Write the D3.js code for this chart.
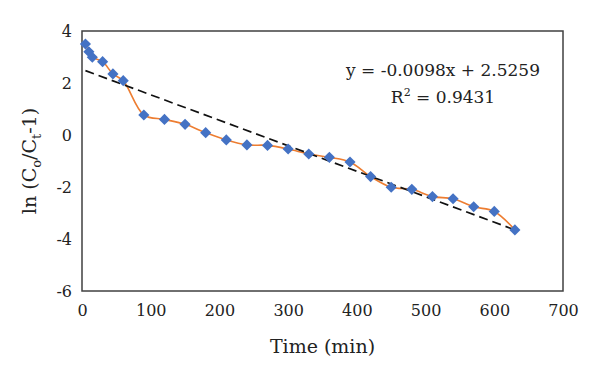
<!DOCTYPE html>
<html>
<head>
<meta charset="utf-8">
<script src="https://cdnjs.cloudflare.com/ajax/libs/d3/7.8.5/d3.min.js"></script>
<style>
  body { margin: 0; background: #fff; }
  text { font-family: "DejaVu Serif", "Liberation Serif", serif; fill: #222; }
</style>
</head>
<body>
<div id="canvas"></div>
<script>
const w = 600;
const h = 374;
const margin = { top: 31, bottom: 83, left: 82, right: 37 };

// values
const times = [5, 10, 15, 30, 45, 60, 90, 120, 150, 180, 210, 240, 270, 300, 330, 360, 390, 420, 450, 480, 510, 540, 570, 600, 630];
const lnValues = [3.5, 3.2, 2.99, 2.82, 2.35, 2.09, 0.77, 0.6, 0.41, 0.09, -0.19, -0.38, -0.4, -0.54, -0.73, -0.86, -1.04, -1.6, -2.01, -2.09, -2.37, -2.45, -2.76, -2.94, -3.65];
const xTicks = [0, 100, 200, 300, 400, 500, 600, 700];
const yTicks = [4, 2, 0, -2, -4, -6];
const slope = -0.0098;
const intercept = 2.5259;
const rSquared = "0.9431";

const width = w - margin.left - margin.right;
const height = h - margin.top - margin.bottom;

const data = times.map((t, i) => ({ t: t, v: lnValues[i] }));

const svg = d3.select("#canvas").append("svg")
  .attr("width", w)
  .attr("height", h);

const chart = svg.append("g")
  .attr("transform", "translate(" + margin.left + "," + margin.top + ")");

const x = d3.scaleLinear().domain([0, 700]).range([0, width]);
const y = d3.scaleLinear().domain([-6, 4]).range([height, 0]);

// frame
chart.append("rect")
  .attr("width", width)
  .attr("height", height)
  .attr("fill", "none")
  .attr("stroke", "#404040")
  .attr("stroke-width", 1.5);

// x tick labels
const xAxis = d3.axisBottom(x).tickValues(xTicks).tickFormat(d => String(d)).tickSize(0).tickPadding(14);
chart.append("g")
  .attr("transform", "translate(0," + height + ")")
  .call(xAxis)
  .call(g => g.select(".domain").remove())
  .selectAll("text")
    .style("font-family", "DejaVu Serif")
    .style("font-size", "16px")
    .attr("fill", "#222");

// y tick labels (plain hyphen for negatives, like the original)
const yAxis = d3.axisLeft(y).tickValues(yTicks).tickFormat(d => String(d)).tickSize(0).tickPadding(10);
chart.append("g")
  .call(yAxis)
  .call(g => g.select(".domain").remove())
  .selectAll("text")
    .style("font-family", "DejaVu Serif")
    .style("font-size", "16px")
    .attr("fill", "#222");

// smoothed data line
const line = d3.line()
  .x(d => x(d.t))
  .y(d => y(d.v))
  .curve(d3.curveCatmullRom.alpha(0.5));

chart.append("path")
  .datum(data)
  .attr("d", line)
  .attr("fill", "none")
  .attr("stroke", "#ED7D31")
  .attr("stroke-width", 1.6);

// linear trendline
const tStart = times[0], tEnd = times[times.length - 1];
chart.append("line")
  .attr("x1", x(tStart))
  .attr("y1", y(slope * tStart + intercept))
  .attr("x2", x(tEnd))
  .attr("y2", y(slope * tEnd + intercept))
  .attr("stroke", "#111")
  .attr("stroke-width", 1.7)
  .attr("stroke-dasharray", "9,5");

// markers
chart.selectAll(".pt")
  .data(data)
  .enter()
  .append("path")
  .classed("pt", true)
  .attr("d", d3.symbol(d3.symbolSquare, 62))
  .attr("transform", d => "translate(" + x(d.t) + "," + y(d.v) + ") rotate(45)")
  .attr("fill", "#4472C4");

// equation
const eq = svg.append("g");
eq.append("text")
  .attr("x", 443)
  .attr("y", 76)
  .attr("text-anchor", "middle")
  .style("font-size", "17px")
  .text("y = " + slope.toFixed(4) + "x + " + intercept.toFixed(4));

const r2 = eq.append("text")
  .attr("x", 443)
  .attr("y", 103)
  .attr("text-anchor", "middle")
  .style("font-size", "17px");
r2.append("tspan").text("R");
r2.append("tspan").attr("dy", -7).style("font-size", "11px").text("2");
r2.append("tspan").attr("dy", 7).text(" = " + rSquared);

// axis titles
svg.append("text")
  .attr("x", margin.left + width / 2)
  .attr("y", 353)
  .attr("text-anchor", "middle")
  .style("font-size", "19px")
  .text("Time (min)");

const yl = svg.append("text")
  .attr("transform", "translate(36," + (margin.top + height / 2) + ") rotate(-90)")
  .attr("text-anchor", "middle")
  .style("font-size", "19px");
yl.append("tspan").text("ln (C");
yl.append("tspan").attr("dy", 5).style("font-size", "13px").text("o");
yl.append("tspan").attr("dy", -5).text("/C");
yl.append("tspan").attr("dy", 5).style("font-size", "13px").text("t");
yl.append("tspan").attr("dy", -5).text("-1)");
</script>
</body>
</html>
